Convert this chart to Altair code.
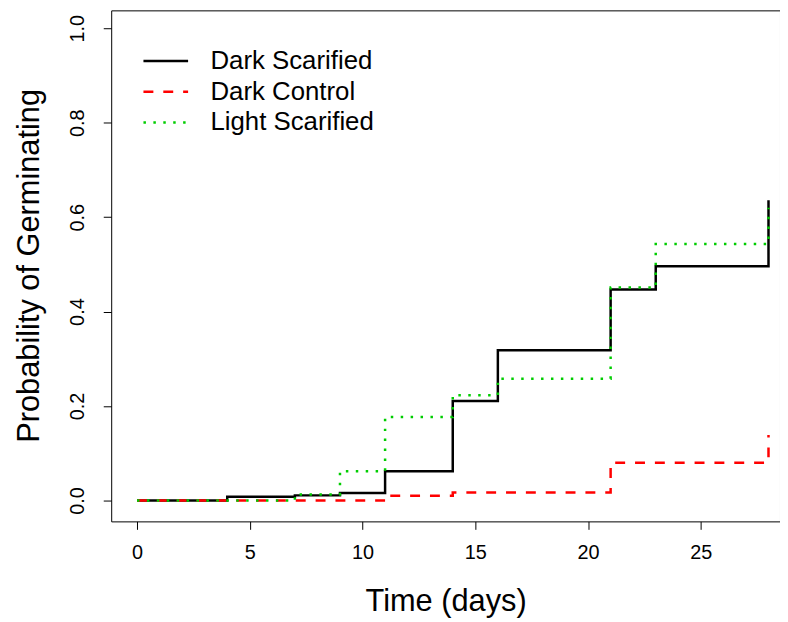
import altair as alt
import pandas as pd

series_names = ["Dark Scarified", "Dark Control", "Light Scarified"]
series_colors = ["#000000", "#FF0000", "#00CD00"]
series_dashes = [[1, 0], [10, 10], [2.5, 7.5]]

dark_scar_days = [0, 4, 7, 9, 11, 14, 16, 21, 23, 28]
dark_scar_prob = [0, 0.008, 0.011, 0.016, 0.062, 0.211, 0.318, 0.447, 0.496, 0.636]
dark_ctrl_days = [0, 11, 14, 21, 28]
dark_ctrl_prob = [0, 0.010, 0.017, 0.080, 0.139]
light_scar_days = [0, 7, 9, 11, 14, 16, 21, 23, 28]
light_scar_prob = [0, 0.013, 0.062, 0.177, 0.223, 0.258, 0.451, 0.543, 0.62]

x_ticks = [0, 5, 10, 15, 20, 25]
y_ticks = [0.0, 0.2, 0.4, 0.6, 0.8, 1.0]

rows = []
for name, days, probs in [
    (series_names[0], dark_scar_days, dark_scar_prob),
    (series_names[1], dark_ctrl_days, dark_ctrl_prob),
    (series_names[2], light_scar_days, light_scar_prob),
]:
    for d, p in zip(days, probs):
        rows.append({"series": name, "day": d, "prob": p})
df = pd.DataFrame(rows)

FONT = "Liberation Sans"

x_enc = alt.X(
    "day:Q",
    scale=alt.Scale(domain=[-1.144, 28.51], nice=False, zero=False),
    axis=alt.Axis(
        values=x_ticks, title="Time (days)", format="d",
        domain=False, grid=False, tickSize=8, tickColor="black", tickWidth=1,
        labelFontSize=20, labelFont=FONT, labelColor="black", labelPadding=13,
        titleFontSize=31, titleFont=FONT, titleFontWeight="normal", titleColor="black",
        titleY=81, titleBaseline="middle",
    ),
)
y_enc = alt.Y(
    "prob:Q",
    scale=alt.Scale(domain=[-0.0441, 1.0378], nice=False, zero=False),
    axis=alt.Axis(
        values=y_ticks, title="Probability of Germinating", format=".1f",
        domain=False, grid=False, tickSize=8, tickColor="black", tickWidth=1,
        labelFontSize=20, labelFont=FONT, labelColor="black", labelPadding=16,
        labelAngle=270, labelAlign="center", labelBaseline="bottom",
        titleFontSize=31, titleFont=FONT, titleFontWeight="normal", titleColor="black",
        titleAngle=270, titleX=-82, titleY=257, titleAlign="center", titleBaseline="middle",
    ),
)
color_enc = alt.Color(
    "series:N",
    scale=alt.Scale(domain=series_names, range=series_colors),
    legend=alt.Legend(title=None),
)
dash_enc = alt.StrokeDash(
    "series:N",
    scale=alt.Scale(domain=series_names, range=series_dashes),
    legend=alt.Legend(title=None),
)

layers = []
for name in series_names:
    layers.append(
        alt.Chart(df)
        .transform_filter(alt.datum.series == name)
        .mark_line(interpolate="step-after", strokeWidth=2.5, strokeCap="butt")
        .encode(x=x_enc, y=y_enc, color=color_enc, strokeDash=dash_enc)
    )

chart = (
    alt.layer(*layers)
    .properties(
        width=674, height=515, autosize="none",
        padding={"left": 104, "top": 0, "right": 0, "bottom": 98},
        background="white",
    )
    .configure_view(stroke="black", strokeWidth=1, fill="white")
    .configure_legend(
        orient="none", legendX=42, legendY=38, padding=0, offset=0,
        symbolType="M-5,0H5", symbolSize=81, symbolStrokeWidth=2.5,
        labelFontSize=26, labelFont=FONT, labelColor="black", labelOffset=32,
        rowPadding=5, labelLimit=400,
    )
)

chart.save("out.html", embed_options={"renderer": "svg", "actions": False})
